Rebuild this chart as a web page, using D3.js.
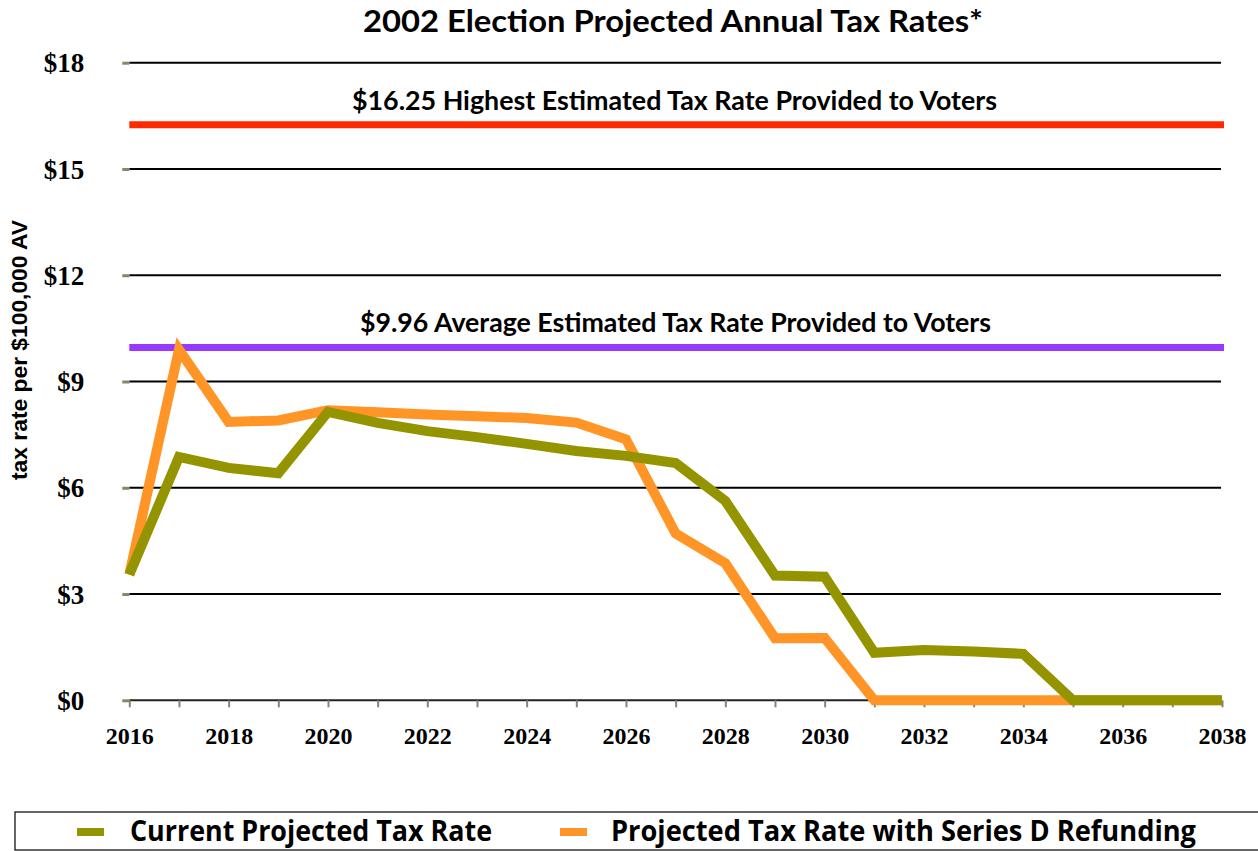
<!DOCTYPE html>
<html>
<head>
<meta charset="utf-8">
<script src="https://cdn.jsdelivr.net/npm/d3@7/dist/d3.min.js"></script>
<style>
  html, body { margin: 0; padding: 0; background: #fff; }
  svg { display: block; }
</style>
</head>
<body>
<svg id="chart" width="1258" height="851"></svg>
<script>
// Projection years
const years = d3.range(2016, 2039);

// Current projected tax rate ($ per $100,000 AV)
const currentRate = [3.55, 6.87, 6.56, 6.41, 8.14, 7.83, 7.60, 7.43, 7.24, 7.04, 6.90, 6.70,
  5.63, 3.52, 3.49, 1.34, 1.42, 1.38, 1.31, 0, 0, 0, 0];

// Projected tax rate with Series D refunding
const refundingRate = [3.55, 9.90, 7.86, 7.90, 8.19, 8.13, 8.07, 8.02, 7.97, 7.84, 7.37, 4.71,
  3.87, 1.75, 1.76, 0, 0, 0, 0, 0, 0, 0, 0];

// Reference rates given to voters
const highestRate = 16.25;
const averageRate = 9.96;

const yTicks = [0, 3, 6, 9, 12, 15, 18];

const seriesNames = ["Current Projected Tax Rate", "Projected Tax Rate with Series D Refunding"];
const seriesColors = ["#949400", "#ff9526"];

const svg = d3.select("#chart");

const x = d3.scaleLinear().domain([2016, 2038]).range([129.3, 1222]);
const y = d3.scaleLinear().domain([0, 18]).range([700.3, 62.7]);

const titleFont = "Lato, 'Open Sans', sans-serif";
const tickFont = "'Liberation Serif', 'DejaVu Serif', serif";

// Title
svg.append("text")
  .attr("x", 363).attr("y", 32)
  .attr("textLength", 620).attr("lengthAdjust", "spacingAndGlyphs")
  .style("font-family", titleFont).style("font-weight", 700).style("font-size", "31px")
  .text("2002 Election Projected Annual Tax Rates*");

// Horizontal grid lines
svg.append("g").selectAll("line")
  .data(yTicks.slice(1))
  .join("line")
  .attr("x1", x(2016)).attr("x2", 1221)
  .attr("y1", d => y(d)).attr("y2", d => y(d))
  .attr("stroke", "#000").attr("stroke-width", 2);

// Y axis: small tick marks and dollar labels, no domain line
const yAxis = d3.axisLeft(y).tickValues(yTicks).tickSize(7).tickPadding(38)
  .tickFormat(d => "$" + d);
const gy = svg.append("g").attr("transform", `translate(${x(2016)},0)`).call(yAxis);
gy.select(".domain").remove();
gy.selectAll(".tick line").attr("stroke", "#7c8c6a").attr("stroke-width", 3);
gy.selectAll(".tick text")
  .style("font-family", tickFont).style("font-weight", 700).style("font-size", "27px")
  .attr("fill", "#000").attr("dy", "0.34em");

// X axis line at zero
svg.append("line")
  .attr("x1", x(2016)).attr("x2", 1221)
  .attr("y1", y(0)).attr("y2", y(0))
  .attr("stroke", "#222").attr("stroke-width", 2);

// X axis ticks every year, labels every second year
const xAxis = d3.axisBottom(x).tickValues(years).tickSize(7).tickPadding(20)
  .tickFormat(d => (d % 2 === 0 ? d : ""));
const gx = svg.append("g").attr("transform", `translate(0,${y(0)})`).call(xAxis);
gx.select(".domain").remove();
gx.selectAll(".tick line").attr("stroke", "#7c8c6a").attr("stroke-width", 2);
gx.selectAll(".tick text")
  .style("font-family", tickFont).style("font-weight", 700).style("font-size", "24px")
  .attr("fill", "#000");

// Y axis title
svg.append("text")
  .attr("transform", `translate(27,350) rotate(-90)`)
  .attr("text-anchor", "middle")
  .attr("textLength", 260).attr("lengthAdjust", "spacingAndGlyphs")
  .style("font-family", "'Liberation Sans', Arial, sans-serif").style("font-weight", 700).style("font-size", "22px")
  .text("tax rate per $100,000 AV");

// Reference lines with their captions
const refs = [
  { value: highestRate, color: "#ff2a00", x0: 352, w: 645,
    label: "$16.25 Highest Estimated Tax Rate Provided to Voters" },
  { value: averageRate, color: "#9938ff", x0: 360, w: 631,
    label: "$9.96 Average Estimated Tax Rate Provided to Voters" }
];
refs.forEach(r => {
  svg.append("line")
    .attr("x1", x(2016)).attr("x2", 1224)
    .attr("y1", y(r.value)).attr("y2", y(r.value))
    .attr("stroke", r.color).attr("stroke-width", 7);
  svg.append("text")
    .attr("x", r.x0).attr("y", y(r.value) - 15)
    .attr("textLength", r.w).attr("lengthAdjust", "spacingAndGlyphs")
    .style("font-family", titleFont).style("font-weight", 700).style("font-size", "26px")
    .text(r.label);
});

// Series lines
const line = d3.line().x((d, i) => x(years[i])).y(d => y(d));
[refundingRate, currentRate].forEach((vals, k) => {
  const color = k === 0 ? seriesColors[1] : seriesColors[0];
  svg.append("path")
    .datum(vals)
    .attr("d", line)
    .attr("fill", "none")
    .attr("stroke", color)
    .attr("stroke-width", 10)
    .attr("stroke-linejoin", "miter");
});

// Legend
svg.append("rect")
  .attr("x", 15).attr("y", 812).attr("width", 1250).attr("height", 38)
  .attr("fill", "#fff").attr("stroke", "#000").attr("stroke-width", 1.2);

const legendItems = [
  { name: seriesNames[0], color: seriesColors[0], sx: 77, tx: 130, tw: 362 },
  { name: seriesNames[1], color: seriesColors[1], sx: 560, tx: 611, tw: 585 }
];
legendItems.forEach(it => {
  svg.append("line")
    .attr("x1", it.sx).attr("x2", it.sx + 27)
    .attr("y1", 832).attr("y2", 832)
    .attr("stroke", it.color).attr("stroke-width", 8);
  svg.append("text")
    .attr("x", it.tx).attr("y", 841)
    .attr("textLength", it.tw).attr("lengthAdjust", "spacingAndGlyphs")
    .style("font-family", "'Liberation Sans Narrow', 'Open Sans', sans-serif")
    .style("font-weight", 700).style("font-size", "28px")
    .text(it.name);
});
</script>
</body>
</html>
